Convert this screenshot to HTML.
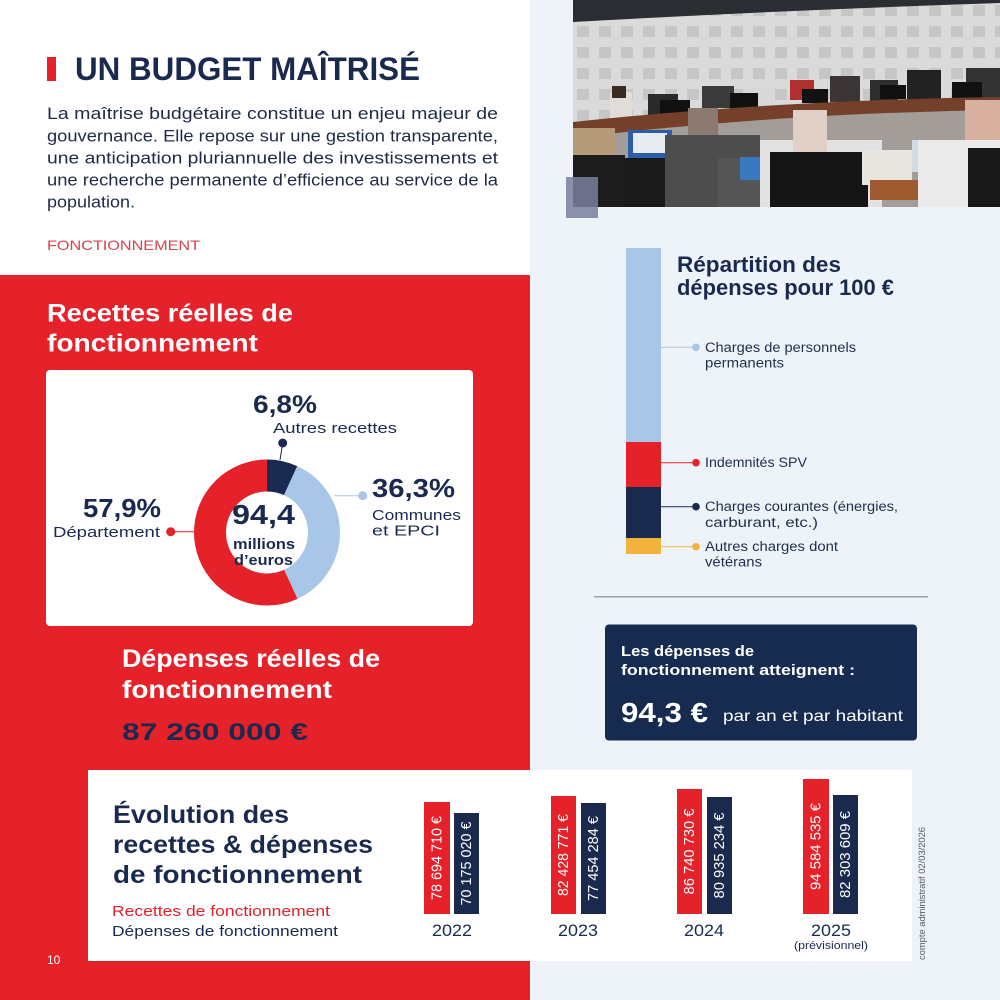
<!DOCTYPE html>
<html><head><meta charset="utf-8"><style>
html,body{margin:0;padding:0;background:#eef3f9;}
svg{display:block;font-family:"Liberation Sans",sans-serif;}
</style></head><body>
<svg width="1000" height="1000" viewBox="0 0 1000 1000" xmlns="http://www.w3.org/2000/svg">
<defs>
<clipPath id="ph"><rect x="573" y="0" width="427" height="207"/></clipPath>
<pattern id="wall" width="22" height="21" patternUnits="userSpaceOnUse"><rect width="22" height="21" fill="#dadada"/><rect x="5" y="5" width="12" height="11" fill="#c6c6c6"/></pattern>
</defs>
<rect x="0" y="0" width="1000" height="1000" fill="#eef3f9"/>
<rect x="0" y="0" width="530" height="275" fill="#ffffff"/>
<rect x="0" y="275" width="530" height="725" fill="#e52129"/>

<!-- Title -->
<rect x="47" y="57" width="9" height="24" fill="#e52129"/>
<text x="75" y="80" font-size="32" font-weight="bold" fill="#1a2a4f" textLength="345" lengthAdjust="spacingAndGlyphs">UN BUDGET MAÎTRISÉ</text>
<g font-size="16.5" fill="#1e2a45">
<text x="47" y="119" textLength="451" lengthAdjust="spacingAndGlyphs">La maîtrise budgétaire constitue un enjeu majeur de</text>
<text x="47" y="141.5" textLength="451" lengthAdjust="spacingAndGlyphs">gouvernance. Elle repose sur une gestion transparente,</text>
<text x="47" y="163.5" textLength="451" lengthAdjust="spacingAndGlyphs">une anticipation pluriannuelle des investissements et</text>
<text x="47" y="185.5" textLength="451" lengthAdjust="spacingAndGlyphs">une recherche permanente d’efficience au service de la</text>
<text x="47" y="207.5" textLength="88" lengthAdjust="spacingAndGlyphs">population.</text>
</g>
<text x="47" y="250" font-size="14" fill="#d64350" textLength="153" lengthAdjust="spacingAndGlyphs">FONCTIONNEMENT</text>

<!-- Recettes title -->
<g font-size="25" font-weight="bold" fill="#ffffff">
<text x="47" y="321.5" textLength="246" lengthAdjust="spacingAndGlyphs">Recettes réelles de</text>
<text x="47" y="351.5" textLength="211" lengthAdjust="spacingAndGlyphs">fonctionnement</text>
</g>

<!-- Donut card -->
<rect x="46" y="370" width="427" height="256" rx="4" fill="#ffffff"/>
<g transform="rotate(-90 267 532.5)" fill="none" stroke-width="32">
<circle cx="267" cy="532.5" r="57" stroke="#1a2a4f" stroke-dasharray="24.35 400"/>
<circle cx="267" cy="532.5" r="57" stroke="#a8c6e8" stroke-dasharray="0 24.35 130 400"/>
<circle cx="267" cy="532.5" r="57" stroke="#e52129" stroke-dasharray="0 154.35 207.4 400"/>
</g>
<line x1="282.7" y1="443" x2="280" y2="460" stroke="#1a2a4f" stroke-width="1"/>
<circle cx="282.7" cy="443" r="4.5" fill="#1a2a4f"/>
<line x1="334" y1="495.7" x2="362.7" y2="495.7" stroke="#a8c6e8" stroke-width="1"/>
<circle cx="362.7" cy="495.7" r="4.5" fill="#a8c6e8"/>
<line x1="170.7" y1="531.7" x2="195" y2="531.7" stroke="#e52129" stroke-width="1"/>
<circle cx="170.7" cy="531.7" r="4.5" fill="#e52129"/>
<g fill="#1a2a4f">
<text x="253" y="413" font-size="25" font-weight="bold" textLength="64" lengthAdjust="spacingAndGlyphs">6,8%</text>
<text x="273" y="433" font-size="15" textLength="124" lengthAdjust="spacingAndGlyphs">Autres recettes</text>
<text x="372" y="497" font-size="26" font-weight="bold" textLength="83" lengthAdjust="spacingAndGlyphs">36,3%</text>
<text x="372" y="520" font-size="15" textLength="89" lengthAdjust="spacingAndGlyphs">Communes</text>
<text x="372" y="535.5" font-size="15" textLength="68" lengthAdjust="spacingAndGlyphs">et EPCI</text>
<text x="83" y="517" font-size="26" font-weight="bold" textLength="78" lengthAdjust="spacingAndGlyphs">57,9%</text>
<text x="53" y="537" font-size="15" textLength="107" lengthAdjust="spacingAndGlyphs">Département</text>
<text x="232" y="524" font-size="28" font-weight="bold" textLength="63" lengthAdjust="spacingAndGlyphs">94,4</text>
<text x="233" y="549" font-size="14.5" font-weight="bold" textLength="62" lengthAdjust="spacingAndGlyphs">millions</text>
<text x="234" y="565" font-size="14.5" font-weight="bold" textLength="59" lengthAdjust="spacingAndGlyphs">d’euros</text>
</g>

<!-- Dépenses -->
<g font-size="25" font-weight="bold" fill="#ffffff">
<text x="122" y="667" textLength="258" lengthAdjust="spacingAndGlyphs">Dépenses réelles de</text>
<text x="122" y="698" textLength="210" lengthAdjust="spacingAndGlyphs">fonctionnement</text>
</g>
<text x="122" y="740" font-size="24" font-weight="bold" fill="#1a2a4f" textLength="186" lengthAdjust="spacingAndGlyphs">87 260 000 €</text>

<!-- Photo -->
<g clip-path="url(#ph)">
<rect x="573" y="0" width="427" height="207" fill="url(#wall)"/>
<path d="M573,0 H1000 V3 Q790,10 573,22 Z" fill="#2a2e32"/>
<path d="M573,128 Q780,104 1000,100 V207 H573Z" fill="#a29d98"/>
<rect x="610" y="92" width="22" height="30" fill="#e0dcd8"/>
<rect x="612" y="86" width="14" height="12" fill="#3a2a22"/>
<rect x="648" y="94" width="30" height="26" fill="#2a2a2a"/>
<rect x="702" y="86" width="32" height="22" fill="#3a3a3a"/>
<rect x="745" y="88" width="28" height="20" fill="#d8d8d8"/>
<rect x="790" y="80" width="24" height="20" fill="#b03030"/>
<rect x="830" y="76" width="30" height="26" fill="#3b3535"/>
<rect x="870" y="80" width="28" height="22" fill="#2d2d2d"/>
<rect x="907" y="70" width="34" height="30" fill="#222222"/>
<rect x="966" y="68" width="34" height="30" fill="#333333"/>
<rect x="660" y="100" width="30" height="16" fill="#111"/>
<rect x="730" y="93" width="28" height="16" fill="#111"/>
<rect x="802" y="89" width="26" height="14" fill="#111"/>
<rect x="880" y="85" width="26" height="14" fill="#111"/>
<rect x="952" y="82" width="30" height="18" fill="#111"/>
<path d="M573,122 Q780,100 1000,97 L1000,110 Q780,113 573,138 Z" fill="#74402a"/>
<!-- foreground -->
<rect x="573" y="128" width="42" height="40" fill="#b39a78"/>
<rect x="573" y="155" width="52" height="52" fill="#1c1c1c"/>
<rect x="628" y="130" width="44" height="28" fill="#2c5da8"/>
<rect x="633" y="133" width="34" height="20" fill="#e8ecf2"/>
<rect x="625" y="158" width="93" height="49" fill="#1a1a1a"/>
<rect x="688" y="108" width="30" height="32" fill="#8a7a70"/>
<rect x="665" y="135" width="95" height="72" fill="#4d4d4d"/>
<rect x="718" y="158" width="45" height="49" fill="#555555"/>
<rect x="740" y="157" width="22" height="23" fill="#3a78c0"/>
<rect x="760" y="140" width="122" height="67" fill="#e2e2e2"/>
<rect x="793" y="110" width="34" height="42" fill="#e0d0c8"/>
<rect x="770" y="152" width="98" height="55" fill="#151515"/>
<rect x="862" y="150" width="50" height="35" fill="#e8e6e0"/>
<rect x="870" y="180" width="50" height="20" fill="#a05a30"/>
<rect x="912" y="140" width="48" height="32" fill="#d0dbe6"/>
<rect x="965" y="100" width="35" height="40" fill="#d8b0a0"/>
<rect x="918" y="140" width="82" height="67" fill="#eaeaea"/>
<rect x="968" y="148" width="32" height="59" fill="#181818"/>
</g>
<rect x="566" y="177" width="32" height="41" fill="#7a7f9e" opacity="0.85"/>

<!-- Répartition -->
<text x="677" y="272" font-size="22" font-weight="bold" fill="#1a2a4f" textLength="164" lengthAdjust="spacingAndGlyphs">Répartition des</text>
<text x="677" y="295" font-size="22" font-weight="bold" fill="#1a2a4f" textLength="217" lengthAdjust="spacingAndGlyphs">dépenses pour 100 €</text>
<rect x="626" y="248" width="35" height="194" fill="#a8c6e8"/>
<rect x="626" y="442" width="35" height="45" fill="#e52129"/>
<rect x="626" y="487" width="35" height="51" fill="#1a2a4f"/>
<rect x="626" y="538" width="35" height="16" fill="#f2b33d"/>
<line x1="661" y1="347.3" x2="696" y2="347.3" stroke="#a8c6e8" stroke-width="1"/>
<circle cx="696" cy="347.3" r="3.8" fill="#a8c6e8"/>
<line x1="661" y1="462.7" x2="696" y2="462.7" stroke="#e52129" stroke-width="1"/>
<circle cx="696" cy="462.7" r="3.8" fill="#e52129"/>
<line x1="661" y1="506.7" x2="696" y2="506.7" stroke="#1a2a4f" stroke-width="1"/>
<circle cx="696" cy="506.7" r="3.8" fill="#1a2a4f"/>
<line x1="661" y1="546.7" x2="696" y2="546.7" stroke="#f2b33d" stroke-width="1"/>
<circle cx="696" cy="546.7" r="3.8" fill="#f2b33d"/>
<g font-size="13.5" fill="#1f2d4d">
<text x="705" y="352" textLength="151" lengthAdjust="spacingAndGlyphs">Charges de personnels</text>
<text x="705" y="367.5" textLength="79" lengthAdjust="spacingAndGlyphs">permanents</text>
<text x="705" y="467" textLength="102" lengthAdjust="spacingAndGlyphs">Indemnités SPV</text>
<text x="705" y="511" textLength="193" lengthAdjust="spacingAndGlyphs">Charges courantes (énergies,</text>
<text x="705" y="527" textLength="113" lengthAdjust="spacingAndGlyphs">carburant, etc.)</text>
<text x="705" y="551" textLength="133" lengthAdjust="spacingAndGlyphs">Autres charges dont</text>
<text x="705" y="566.5" textLength="57" lengthAdjust="spacingAndGlyphs">vétérans</text>
</g>
<line x1="594" y1="596.7" x2="928" y2="596.7" stroke="#9aa3ad" stroke-width="1.5"/>

<!-- Navy box -->
<rect x="605" y="624.5" width="312" height="116" rx="4" fill="#172a50"/>
<g fill="#ffffff">
<text x="621" y="656" font-size="15" font-weight="bold" textLength="133" lengthAdjust="spacingAndGlyphs">Les dépenses de</text>
<text x="621" y="675" font-size="15" font-weight="bold" textLength="234" lengthAdjust="spacingAndGlyphs">fonctionnement atteignent :</text>
<text x="621" y="722" font-size="28" font-weight="bold" textLength="87" lengthAdjust="spacingAndGlyphs">94,3 €</text>
<text x="723" y="721" font-size="16" textLength="180" lengthAdjust="spacingAndGlyphs">par an et par habitant</text>
</g>

<!-- Bottom chart -->
<rect x="88" y="770" width="824" height="191" fill="#ffffff"/>
<g font-size="25" font-weight="bold" fill="#1a2a4f">
<text x="113" y="823" textLength="176" lengthAdjust="spacingAndGlyphs">Évolution des</text>
<text x="113" y="853" textLength="260" lengthAdjust="spacingAndGlyphs">recettes &amp; dépenses</text>
<text x="113" y="883" textLength="249" lengthAdjust="spacingAndGlyphs">de fonctionnement</text>
</g>
<text x="112" y="916" font-size="15" fill="#e52129" textLength="218" lengthAdjust="spacingAndGlyphs">Recettes de fonctionnement</text>
<text x="112" y="936" font-size="15" fill="#1a2a4f" textLength="226" lengthAdjust="spacingAndGlyphs">Dépenses de fonctionnement</text>

<rect x="424" y="802" width="26" height="112" fill="#e52129"/>
<rect x="454" y="813" width="25" height="101" fill="#1a2a4f"/>
<rect x="551" y="796" width="25" height="118" fill="#e52129"/>
<rect x="581" y="803" width="25" height="111" fill="#1a2a4f"/>
<rect x="677" y="789" width="25" height="125" fill="#e52129"/>
<rect x="707" y="797" width="25" height="117" fill="#1a2a4f"/>
<rect x="803" y="779" width="26" height="135" fill="#e52129"/>
<rect x="833" y="795" width="25" height="119" fill="#1a2a4f"/>
<g font-size="15" fill="#ffffff" text-anchor="middle" dominant-baseline="central">
<text transform="translate(437,858) rotate(-90)" textLength="84" lengthAdjust="spacingAndGlyphs">78 694 710 €</text>
<text transform="translate(466.5,863.5) rotate(-90)" textLength="84" lengthAdjust="spacingAndGlyphs">70 175 020 €</text>
<text transform="translate(563.5,855) rotate(-90)" textLength="82" lengthAdjust="spacingAndGlyphs">82 428 771 €</text>
<text transform="translate(593.5,858.5) rotate(-90)" textLength="85" lengthAdjust="spacingAndGlyphs">77 454 284 €</text>
<text transform="translate(689.5,851.5) rotate(-90)" textLength="86" lengthAdjust="spacingAndGlyphs">86 740 730 €</text>
<text transform="translate(719.5,855.5) rotate(-90)" textLength="86" lengthAdjust="spacingAndGlyphs">80 935 234 €</text>
<text transform="translate(816,846.5) rotate(-90)" textLength="87" lengthAdjust="spacingAndGlyphs">94 584 535 €</text>
<text transform="translate(845.5,854.5) rotate(-90)" textLength="87" lengthAdjust="spacingAndGlyphs">82 303 609 €</text>
</g>
<g font-size="17" fill="#1a2a4f" text-anchor="middle">
<text x="452" y="936" textLength="40" lengthAdjust="spacingAndGlyphs">2022</text>
<text x="578" y="936" textLength="40" lengthAdjust="spacingAndGlyphs">2023</text>
<text x="704" y="936" textLength="40" lengthAdjust="spacingAndGlyphs">2024</text>
<text x="831" y="936" textLength="40" lengthAdjust="spacingAndGlyphs">2025</text>
<text x="831" y="949" font-size="11" textLength="74" lengthAdjust="spacingAndGlyphs">(prévisionnel)</text>
</g>
<text transform="translate(925,960) rotate(-90)" font-size="9" fill="#555a66" textLength="133" lengthAdjust="spacingAndGlyphs">compte administratif 02/03/2026</text>

<text x="47" y="964" font-size="12" fill="#ffffff">10</text>
</svg>
</body></html>
